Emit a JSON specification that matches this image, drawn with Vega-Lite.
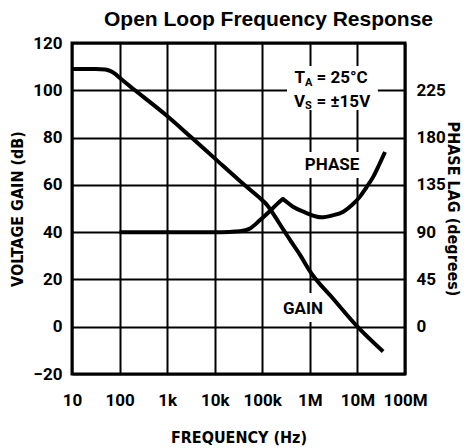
{
  "$schema": "https://vega.github.io/schema/vega-lite/v6.json",
  "width": 333,
  "height": 331,
  "autosize": {"type": "none"},
  "padding": {"left": 72, "top": 43, "right": 64, "bottom": 74},
  "background": "white",
  "title": {"text": "Open Loop Frequency Response", "font": "Liberation Sans", "fontSize": 21, "fontWeight": "bold", "color": "black", "dx": 30, "offset": 4},
  "config": {
    "view": {"stroke": "black", "strokeWidth": 3},
    "axis": {
      "labelFont": "Roboto",
      "labelFontSize": 17,
      "labelFontWeight": "bold",
      "labelColor": "black",
      "titleFont": "DejaVu Sans Condensed",
      "titleFontSize": 16,
      "titleFontWeight": "bold",
      "titleColor": "black",
      "domain": false,
      "ticks": false,
      "grid": true,
      "gridColor": "black",
      "gridWidth": 2,
      "gridOpacity": 1
    }
  },
  "datasets": {
    "gain": [
      {"f": 10, "v": 109},
      {"f": 31.6, "v": 109},
      {"f": 50.1, "v": 108.8},
      {"f": 63.1, "v": 108.2},
      {"f": 79.4, "v": 107.0},
      {"f": 100, "v": 105.3},
      {"f": 177.8, "v": 101.2},
      {"f": 316.2, "v": 97.2},
      {"f": 1000, "v": 89.1},
      {"f": 3162, "v": 80.2},
      {"f": 10000, "v": 71.2},
      {"f": 31623, "v": 62.2},
      {"f": 63096, "v": 57.0},
      {"f": 100000, "v": 53.5},
      {"f": 125893, "v": 51.5},
      {"f": 158489, "v": 48.7},
      {"f": 199526, "v": 45.6},
      {"f": 251189, "v": 42.4},
      {"f": 316228, "v": 39.3},
      {"f": 398107, "v": 36.2},
      {"f": 630957, "v": 30.2},
      {"f": 1000000, "v": 23.5},
      {"f": 3162278, "v": 11.6},
      {"f": 10000000, "v": 0},
      {"f": 34673685, "v": -10.5}
    ],
    "phase": [
      {"f": 100, "p": 90},
      {"f": 1000, "p": 90},
      {"f": 10000, "p": 90},
      {"f": 20000, "p": 90.2},
      {"f": 33884, "p": 90.8},
      {"f": 55208, "p": 93.5},
      {"f": 89743, "p": 101.5},
      {"f": 152757, "p": 111.1},
      {"f": 250000, "p": 120.3},
      {"f": 272898, "p": 121.5},
      {"f": 295000, "p": 120.3},
      {"f": 442588, "p": 114.2},
      {"f": 727780, "p": 109.5},
      {"f": 1774102, "p": 104.1},
      {"f": 2924152, "p": 105.8},
      {"f": 5046613, "p": 109.5},
      {"f": 7691304, "p": 115.8},
      {"f": 11324040, "p": 123.8},
      {"f": 15135612, "p": 132},
      {"f": 21577444, "p": 142.8},
      {"f": 28444611, "p": 153.9},
      {"f": 38018940, "p": 166.3}
    ],
    "boxes": [
      {"f1": 331000, "f2": 26900000, "v1": 110.3, "v2": 91.7},
      {"f1": 718000, "f2": 11900000, "v1": 73.9, "v2": 62.9},
      {"f1": 236000, "f2": 2180000, "v1": 14.3, "v2": 2.0}
    ],
    "labels": [
      {"f": 2930000, "v": 68.6, "label": "PHASE"},
      {"f": 718000, "v": 7.7, "label": "GAIN"}
    ],
    "mainSym": [
      {"f": 791000, "v": 105.2, "label": "T"},
      {"f": 791000, "v": 95.05, "label": "V"}
    ],
    "subs": [
      {"f": 791000, "v": 103.1, "label": "A"},
      {"f": 791000, "v": 93.2, "label": "S"}
    ],
    "rest": [
      {"f": 1380000, "v": 105.2, "label": "= 25°C"},
      {"f": 1380000, "v": 95.05, "label": "= ±15V"}
    ]
  },
  "layer": [
    {
      "layer": [
        {
          "data": {"name": "boxes"},
          "mark": {"type": "rect", "fill": "white"},
          "encoding": {
            "x": {"field": "f1", "type": "quantitative", "scale": {"type": "log", "domain": [10, 100000000], "nice": false}},
            "x2": {"field": "f2"},
            "y": {"field": "v1", "type": "quantitative", "scale": {"domain": [-20, 120], "nice": false}},
            "y2": {"field": "v2"}
          }
        },
        {
          "data": {"name": "gain"},
          "mark": {"type": "line", "color": "black", "strokeWidth": 4, "interpolate": "monotone"},
          "encoding": {
            "x": {"field": "f", "type": "quantitative", "scale": {"type": "log", "domain": [10, 100000000], "nice": false},
              "axis": {"orient": "bottom", "title": "FREQUENCY (Hz)", "values": [10, 100, 1000, 10000, 100000, 1000000, 10000000, 100000000], "grid": true, "labelPadding": 18, "titlePadding": 21, "labelFlush": false,
                "labelExpr": "datum.value >= 1000000 ? format(datum.value/1000000,'d') + 'M' : datum.value >= 1000 ? format(datum.value/1000,'d') + 'k' : format(datum.value,'d')"}},
            "y": {"field": "v", "type": "quantitative", "scale": {"domain": [-20, 120], "nice": false},
              "axis": {"orient": "left", "title": "VOLTAGE GAIN (dB)", "values": [-20, 0, 20, 40, 60, 80, 100, 120], "grid": true, "labelPadding": 10, "titlePadding": 7}}
          }
        },
        {
          "data": {"name": "labels"},
          "mark": {"type": "text", "font": "Roboto", "fontWeight": "bold", "fontSize": 17, "color": "black", "align": "center", "baseline": "middle"},
          "encoding": {
            "x": {"field": "f", "type": "quantitative", "scale": {"type": "log", "domain": [10, 100000000], "nice": false}},
            "y": {"field": "v", "type": "quantitative", "scale": {"domain": [-20, 120], "nice": false}},
            "text": {"field": "label"}
          }
        },
        {
          "data": {"name": "mainSym"},
          "mark": {"type": "text", "font": "Roboto", "fontWeight": "bold", "fontSize": 17, "color": "black", "align": "right", "baseline": "middle"},
          "encoding": {
            "x": {"field": "f", "type": "quantitative", "scale": {"type": "log", "domain": [10, 100000000], "nice": false}},
            "y": {"field": "v", "type": "quantitative", "scale": {"domain": [-20, 120], "nice": false}},
            "text": {"field": "label"}
          }
        },
        {
          "data": {"name": "subs"},
          "mark": {"type": "text", "font": "Roboto", "fontWeight": "bold", "fontSize": 11, "color": "black", "align": "left", "baseline": "middle"},
          "encoding": {
            "x": {"field": "f", "type": "quantitative", "scale": {"type": "log", "domain": [10, 100000000], "nice": false}},
            "y": {"field": "v", "type": "quantitative", "scale": {"domain": [-20, 120], "nice": false}},
            "text": {"field": "label"}
          }
        },
        {
          "data": {"name": "rest"},
          "mark": {"type": "text", "font": "Roboto", "fontWeight": "bold", "fontSize": 17, "color": "black", "align": "left", "baseline": "middle"},
          "encoding": {
            "x": {"field": "f", "type": "quantitative", "scale": {"type": "log", "domain": [10, 100000000], "nice": false}},
            "y": {"field": "v", "type": "quantitative", "scale": {"domain": [-20, 120], "nice": false}},
            "text": {"field": "label"}
          }
        }
      ]
    },
    {
      "data": {"name": "phase"},
      "mark": {"type": "line", "color": "black", "strokeWidth": 4, "interpolate": "monotone"},
      "encoding": {
        "x": {"field": "f", "type": "quantitative", "scale": {"type": "log", "domain": [10, 100000000], "nice": false}},
        "y": {"field": "p", "type": "quantitative", "scale": {"domain": [-45, 270], "nice": false},
          "axis": {"orient": "right", "title": "PHASE LAG (degrees)", "values": [0, 45, 90, 135, 180, 225], "grid": false, "labelPadding": 11, "titlePadding": -1}}
      }
    }
  ],
  "resolve": {"scale": {"y": "independent"}}
}
